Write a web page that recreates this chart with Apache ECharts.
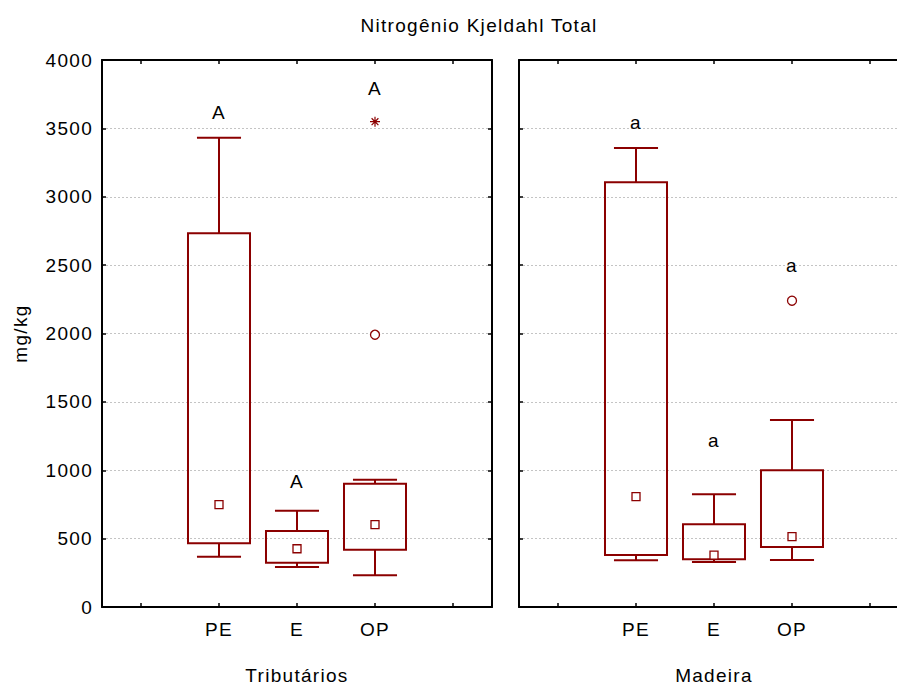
<!DOCTYPE html>
<html>
<head>
<meta charset="utf-8">
<script src="https://cdn.jsdelivr.net/npm/echarts@6/dist/echarts.min.js"></script>
<style>
  html, body { margin: 0; padding: 0; background: #fff; }
  #chart { width: 897px; height: 685px; }
  #chart text { letter-spacing: 1.3px; }
</style>
</head>
<body>
<div id="chart"></div>
<script>
// Tick labels of each panel's category axis (blank slots at both ends)
const categories = ['', 'PE', 'E', 'OP', ''];
const boxCategories = ['PE', 'E', 'OP'];
const groupNames = ['Tributários', 'Madeira'];
const yTicks = [0, 500, 1000, 1500, 2000, 2500, 3000, 3500, 4000];

// Tributários: non-outlier min, 25%, median, 75%, non-outlier max (mg/kg)
const tribLow = [368, 293, 232];
const tribQ1 = [466, 324, 419];
const tribMedian = [748, 426, 602];
const tribQ3 = [2733, 556, 902];
const tribHigh = [3432, 704, 931];
const tribOutliers = [['OP', 1991]];
const tribExtremes = [['OP', 3549]];
const tribLetters = ['A', 'A', 'A'];
const tribLetterY = [3613, 919, 3788];

// Madeira
const madLow = [342, 329, 344];
const madQ1 = [380, 349, 439];
const madMedian = [807, 380, 514];
const madQ3 = [3106, 605, 1000];
const madHigh = [3357, 824, 1368];
const madOutliers = [['OP', 2240]];
const madExtremes = [];
const madLetters = ['a', 'a', 'a'];
const madLetterY = [3545, 1214, 2496];

const RED = '#8b0000';
const FONT = 'Liberation Sans';

const idx = name => categories.indexOf(name);

function boxData(low, q1, q3, high) {
  return boxCategories.map((c, i) => [idx(c), low[i], q1[i], q3[i], high[i]]);
}
function pointData(vals) {
  return boxCategories.map((c, i) => [idx(c), vals[i]]);
}
function namedPoints(pairs) {
  return pairs.map(p => [idx(p[0]), p[1]]);
}
function letterData(letters, ys) {
  return boxCategories.map((c, i) => ({ name: letters[i], value: [idx(c), ys[i]] }));
}

function renderBox(params, api) {
  const x = api.value(0);
  const low = api.coord([x, api.value(1)]);
  const q1 = api.coord([x, api.value(2)]);
  const q3 = api.coord([x, api.value(3)]);
  const high = api.coord([x, api.value(4)]);
  const band = api.size([1, 0])[0];
  const bw = band * 0.795;
  const cw = band * 0.565;
  const cx = low[0];
  const style = { stroke: RED, lineWidth: 2, fill: null };
  return {
    type: 'group',
    children: [
      { type: 'line', shape: { x1: cx, y1: high[1], x2: cx, y2: q3[1] }, style },
      { type: 'line', shape: { x1: cx - cw / 2, y1: high[1], x2: cx + cw / 2, y2: high[1] }, style },
      { type: 'rect', shape: { x: cx - bw / 2, y: q3[1], width: bw, height: q1[1] - q3[1] }, style },
      { type: 'line', shape: { x1: cx, y1: q1[1], x2: cx, y2: low[1] }, style },
      { type: 'line', shape: { x1: cx - cw / 2, y1: low[1], x2: cx + cw / 2, y2: low[1] }, style }
    ]
  };
}

const axisLine = { show: true, onZero: false, lineStyle: { color: '#000', width: 2 } };
const tickIn = { show: true, inside: true, length: 4, alignWithLabel: true, lineStyle: { color: '#000', width: 1.5 } };
const yTickIn = { show: true, inside: true, length: 4, lineStyle: { color: '#000', width: 1.5 } };
const textBase = { fontFamily: FONT, fontSize: 19, color: '#000' };

function bottomAxis(gi) {
  return {
    type: 'category', gridIndex: gi, position: 'bottom', data: categories,
    boundaryGap: true, axisLine, axisTick: tickIn,
    axisLabel: Object.assign({ margin: 13, interval: 0 }, textBase),
    name: groupNames[gi], nameLocation: 'middle', nameGap: 61,
    nameTextStyle: Object.assign({ lineHeight: 15 }, textBase), splitLine: { show: false }
  };
}
function topAxis(gi) {
  return {
    type: 'category', gridIndex: gi, position: 'top', data: categories,
    boundaryGap: true, axisLine, axisTick: tickIn,
    axisLabel: { show: false }, splitLine: { show: false }
  };
}
function yAxis(gi, pos, labels, grid) {
  const a = {
    type: 'value', gridIndex: gi, position: pos, min: yTicks[0], max: yTicks[yTicks.length - 1], interval: 500,
    axisLine, axisTick: yTickIn,
    axisLabel: Object.assign({ show: labels, margin: 9, formatter: v => String(v) }, textBase),
    splitLine: { show: grid, lineStyle: { color: '#c4c4c4', width: 1, type: [2, 2] } }
  };
  if (gi === 0 && pos === 'left') {
    a.name = 'mg/kg';
    a.nameLocation = 'middle';
    a.nameRotate = 90;
    a.nameGap = 72;
    a.nameTextStyle = textBase;
  }
  return a;
}

function panelSeries(gi, low, q1, median, q3, high, outliers, extremes, letters, letterY) {
  return [
    {
      type: 'custom', xAxisIndex: gi * 2, yAxisIndex: gi * 2,
      renderItem: renderBox, data: boxData(low, q1, q3, high),
      encode: { x: 0, y: [1, 2, 3, 4] }, clip: false, z: 3
    },
    {
      type: 'scatter', xAxisIndex: gi * 2, yAxisIndex: gi * 2,
      symbol: 'rect', symbolSize: 8, data: pointData(median),
      itemStyle: { color: '#fff', borderColor: RED, borderWidth: 1.3, opacity: 1 }, z: 4
    },
    {
      type: 'scatter', xAxisIndex: gi * 2, yAxisIndex: gi * 2,
      symbol: 'circle', symbolSize: 9, data: namedPoints(outliers),
      itemStyle: { color: '#fff', borderColor: RED, borderWidth: 1.3, opacity: 1 }, z: 4
    },
    {
      type: 'scatter', xAxisIndex: gi * 2, yAxisIndex: gi * 2,
      symbol: 'path://M5 0L5 10M0 5L10 5M1.6 1.6L8.4 8.4M1.6 8.4L8.4 1.6', symbolSize: 10,
      data: namedPoints(extremes),
      itemStyle: { color: 'none', borderColor: RED, borderWidth: 1.2, opacity: 1 }, z: 4
    },
    {
      type: 'scatter', xAxisIndex: gi * 2, yAxisIndex: gi * 2,
      symbolSize: 1, itemStyle: { color: 'rgba(0,0,0,0)', opacity: 1 },
      data: letterData(letters, letterY),
      label: Object.assign({ show: true, position: 'inside', formatter: p => p.name, textBorderWidth: 0 }, textBase), z: 5
    }
  ];
}

const chart = echarts.init(document.getElementById('chart'), null, { renderer: 'svg' });
chart.setOption({
  animation: false,
  backgroundColor: '#fff',
  title: {
    text: 'Nitrogênio Kjeldahl Total', left: 474, top: 11, textAlign: 'center',
    textStyle: Object.assign({ fontWeight: 'normal' }, textBase)
  },
  grid: [
    { left: 102, top: 60, width: 390, height: 547, outerBoundsMode: 'none', containLabel: false },
    { left: 519, top: 60, width: 390, height: 547, outerBoundsMode: 'none', containLabel: false }
  ],
  xAxis: [bottomAxis(0), topAxis(0), bottomAxis(1), topAxis(1)],
  yAxis: [yAxis(0, 'left', true, true), yAxis(0, 'right', false, false),
          yAxis(1, 'left', false, true), yAxis(1, 'right', false, false)],
  series: [].concat(
    panelSeries(0, tribLow, tribQ1, tribMedian, tribQ3, tribHigh, tribOutliers, tribExtremes, tribLetters, tribLetterY),
    panelSeries(1, madLow, madQ1, madMedian, madQ3, madHigh, madOutliers, madExtremes, madLetters, madLetterY)
  )
});
</script>
</body>
</html>
